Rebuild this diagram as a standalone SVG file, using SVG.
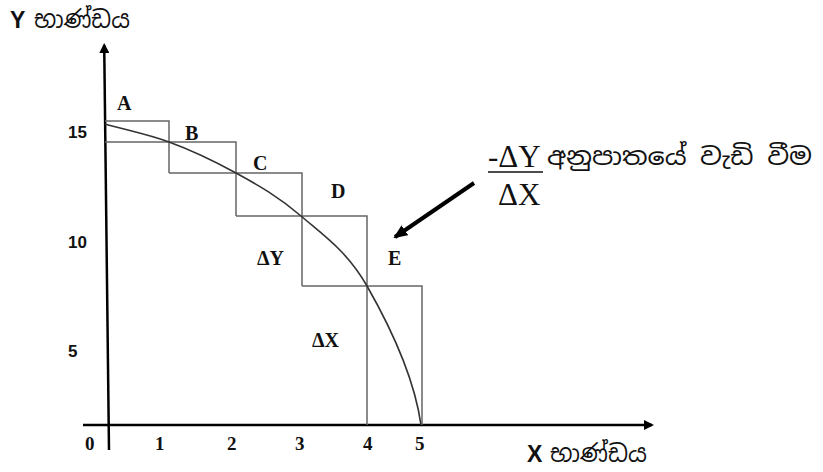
<svg xmlns="http://www.w3.org/2000/svg" width="823" height="472" viewBox="0 0 823 472">
<style>
.ax{stroke:#000;stroke-width:2.5;fill:none}
.bx{stroke:#666;stroke-width:1.5;fill:none}
.cv{stroke:#333;stroke-width:1.6;fill:none}
.pt{font-family:"Liberation Serif","Times New Roman",serif;font-weight:bold;font-size:20px;fill:#111}
.yn{font-family:"Liberation Sans",Arial,sans-serif;font-weight:bold;font-size:17px;fill:#111}
.xn{font-family:"Liberation Serif","Times New Roman",serif;font-weight:bold;font-size:19px;fill:#111}
.lt{font-family:"Liberation Sans",Arial,sans-serif;font-weight:bold;font-size:23px;fill:#111}
.fr{font-family:"Liberation Serif","Times New Roman",serif;font-size:31px;fill:#111}
.si{font-family:"Noto Sans Sinhala","Iskoola Pota","Noto Sans",sans-serif;font-size:24px;fill:#111}
</style>
<defs>
<marker id="ah" markerWidth="10" markerHeight="10" refX="8" refY="5" orient="auto" markerUnits="userSpaceOnUse">
<path d="M0,0 L10,5 L0,10 z" fill="#000"/>
</marker>
<marker id="ah2" markerWidth="14" markerHeight="14" refX="12" refY="7" orient="auto" markerUnits="userSpaceOnUse">
<path d="M0,1 L14,7 L0,13 z" fill="#000"/>
</marker>
</defs>
<rect width="823" height="472" fill="#fff"/>
<g id="axes">
<line class="ax" x1="109" y1="450" x2="104.2" y2="45" marker-end="url(#ah)"/>
<line class="ax" x1="83" y1="425" x2="652" y2="425" marker-end="url(#ah)"/>
</g>
<g id="boxes">
<path class="bx" d="M105,121 H169 V173 M105,142 H236 V216 M169,173 H302 V286 M236,216 H367 V425 M302,286 H422 V425"/>
</g>
<g id="curve">
<path class="cv" d="M105,124 C126,130 147,134 169,142 C191,150 214,161 236,173 C258,185 279,197 301,216 C323,235 347,251 367,286 C387,321 414,375 421,425"/>
</g>
<g id="labels">
<text class="pt" x="117" y="110">A</text>
<text class="pt" x="185" y="140">B</text>
<text class="pt" x="253" y="170">C</text>
<text class="pt" x="331" y="198">D</text>
<text class="pt" x="388" y="265">E</text>
<text class="pt" x="257" y="265">ΔY</text>
<text class="pt" x="312" y="347">ΔX</text>
</g>
<g id="yticks">
<text class="yn" x="68" y="138">15</text>
<text class="yn" x="68" y="248">10</text>
<text class="yn" x="68" y="357">5</text>
</g>
<g id="xticks">
<text class="xn" x="85" y="450">0</text>
<text class="xn" x="155" y="450">1</text>
<text class="xn" x="227" y="450">2</text>
<text class="xn" x="295" y="450">3</text>
<text class="xn" x="363" y="450">4</text>
<text class="xn" x="415" y="450">5</text>
</g>
<g id="ytitle">
<text class="lt" x="10" y="28">Y</text>
<text class="si" x="34" y="28" textLength="96" lengthAdjust="spacingAndGlyphs">භාණ්ඩය</text>
</g>
<g id="xtitle">
<text class="lt" x="527" y="462">X</text>
<text class="si" x="550" y="462" textLength="97" lengthAdjust="spacingAndGlyphs">භාණ්ඩය</text>
</g>
<g id="note">
<text class="fr" x="488" y="167">-ΔY</text>
<line x1="488" y1="172" x2="543" y2="172" stroke="#111" stroke-width="1.5"/>
<text class="fr" x="498" y="205">ΔX</text>
<text class="si" x="547" y="165" textLength="265" lengthAdjust="spacingAndGlyphs">අනුපාතයේ වැඩි වීම</text>
</g>
<g id="connectors">
<line x1="474" y1="183" x2="395" y2="237" stroke="#000" stroke-width="4" marker-end="url(#ah2)"/>
</g>
</svg>
